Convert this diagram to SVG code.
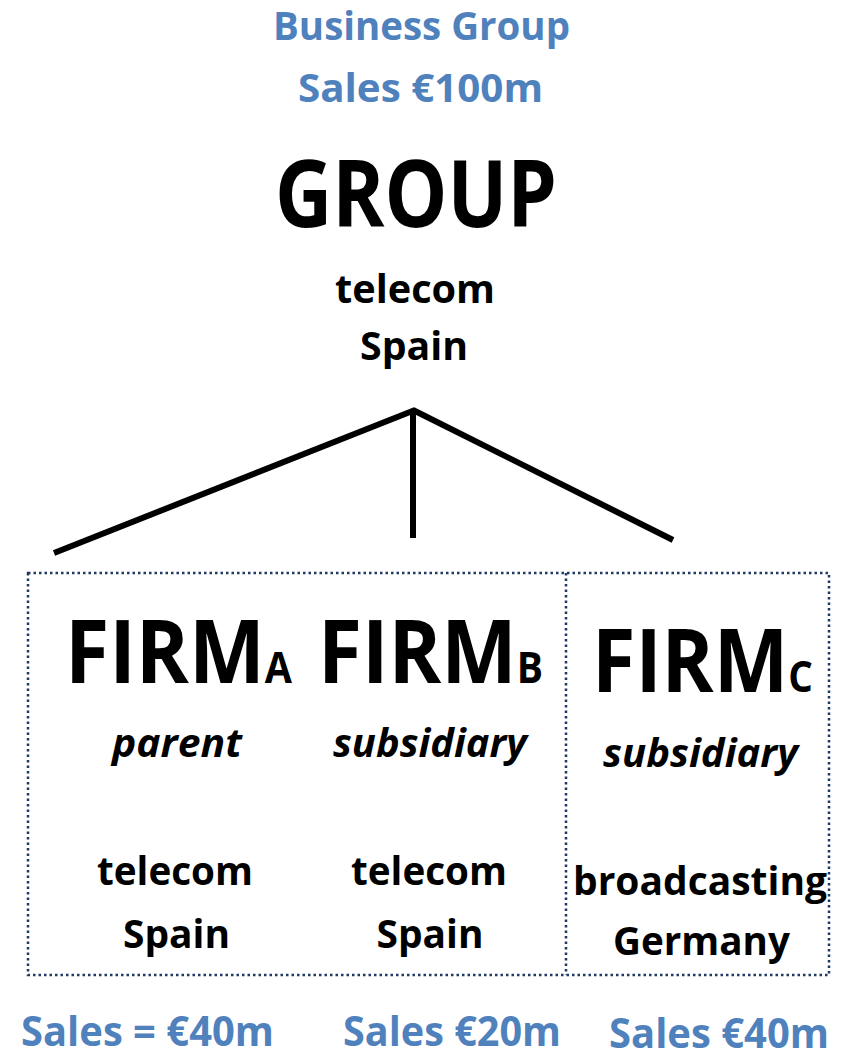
<svg xmlns="http://www.w3.org/2000/svg" width="841" height="1054" viewBox="0 0 841 1054">
<style>
text{font-family:"Open Sans","Noto Sans","Liberation Sans",sans-serif;font-weight:bold;text-anchor:middle;fill:#000}
.blue{fill:#4F81BD;font-size:39px}
.blue2{fill:#4F81BD;font-size:42px}
.big{font-size:94px}
.firm{font-size:88px;text-anchor:start}
.sub{font-size:43px}
.it{font-style:italic;font-size:40px}
.mid{font-size:40px}
.conn{stroke:#000;stroke-width:6;fill:none;stroke-linecap:butt}
.box{stroke:#1F3864;stroke-width:2.5;stroke-dasharray:2.5 3;fill:none}
</style>
<rect width="841" height="1054" fill="#fff"/>
<g id="title">
<text class="blue" x="421.5" y="40" textLength="297" lengthAdjust="spacingAndGlyphs">Business Group</text>
<text class="blue" x="420.5" y="102" textLength="245" lengthAdjust="spacingAndGlyphs">Sales €100m</text>
</g>
<g id="group">
<text class="big" x="416" y="227" textLength="282" lengthAdjust="spacingAndGlyphs">GROUP</text>
<text class="mid" x="415" y="303" textLength="160" lengthAdjust="spacingAndGlyphs">telecom</text>
<text class="mid" x="414" y="360" textLength="108" lengthAdjust="spacingAndGlyphs">Spain</text>
</g>
<g id="connectors">
<line class="conn" x1="415" y1="410" x2="54" y2="553"/>
<line class="conn" x1="413" y1="410" x2="413" y2="538"/>
<line class="conn" x1="413" y1="410" x2="673" y2="540"/>
</g>
<g id="frame">
<rect class="box" x="28" y="573" width="801" height="402"/>
<line class="box" x1="566" y1="573" x2="566" y2="975"/>
</g>
<g id="firmA">
<text class="firm" x="65" y="683" textLength="227" lengthAdjust="spacingAndGlyphs">FIRM<tspan class="sub">A</tspan></text>
<text class="it" x="177" y="757" textLength="130" lengthAdjust="spacingAndGlyphs">parent</text>
<text class="mid" x="175" y="885" textLength="156" lengthAdjust="spacingAndGlyphs">telecom</text>
<text class="mid" x="176.5" y="948" textLength="107" lengthAdjust="spacingAndGlyphs">Spain</text>
<text class="blue2" x="147.5" y="1046" textLength="253" lengthAdjust="spacingAndGlyphs">Sales = €40m</text>
</g>
<g id="firmB">
<text class="firm" x="318" y="683" textLength="225" lengthAdjust="spacingAndGlyphs">FIRM<tspan class="sub">B</tspan></text>
<text class="it" x="430" y="757" textLength="194" lengthAdjust="spacingAndGlyphs">subsidiary</text>
<text class="mid" x="429" y="885" textLength="156" lengthAdjust="spacingAndGlyphs">telecom</text>
<text class="mid" x="430" y="948" textLength="107" lengthAdjust="spacingAndGlyphs">Spain</text>
<text class="blue2" x="452" y="1046" textLength="218" lengthAdjust="spacingAndGlyphs">Sales €20m</text>
</g>
<g id="firmC">
<text class="firm" x="592" y="692" textLength="221" lengthAdjust="spacingAndGlyphs">FIRM<tspan class="sub">C</tspan></text>
<text class="it" x="700.5" y="767" textLength="195" lengthAdjust="spacingAndGlyphs">subsidiary</text>
<text class="mid" x="700" y="895" textLength="254" lengthAdjust="spacingAndGlyphs">broadcasting</text>
<text class="mid" x="701.5" y="955" textLength="177" lengthAdjust="spacingAndGlyphs">Germany</text>
<text class="blue2" x="719" y="1048" textLength="220" lengthAdjust="spacingAndGlyphs">Sales €40m</text>
</g>
</svg>
